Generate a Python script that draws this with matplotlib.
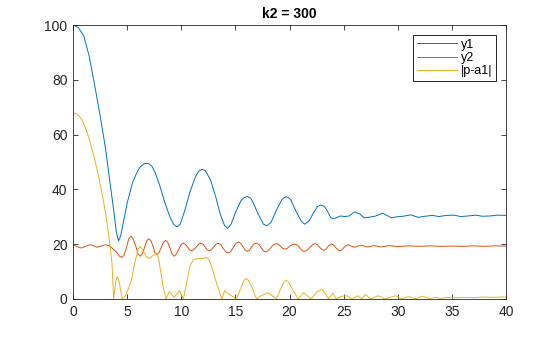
import numpy as np
import matplotlib
matplotlib.use('Agg')
import matplotlib.pyplot as plt

# values
x1 = [0, 0.5, 1.0, 1.5, 2.0, 2.5, 3.0, 3.5, 3.8, 4.0, 4.2, 4.4, 4.7, 5.0, 5.5, 6.0, 6.3, 6.6, 6.8,
      7.0, 7.3, 7.6, 8.0, 8.5, 9.0, 9.3, 9.6, 9.9, 10.3, 10.8, 11.3, 11.6, 11.9, 12.2, 12.7, 13.2,
      13.6, 14.0, 14.3, 14.6, 15.0, 15.5, 15.8, 16.1, 16.4, 16.6, 17.1, 17.6, 17.9, 18.3, 18.8,
      19.3, 19.5, 19.7, 19.9, 20.1, 20.6, 21.1, 21.4, 21.8, 22.3, 22.6, 22.9, 23.2, 23.4, 23.8,
      24.0, 24.3, 24.7, 25.1, 25.5, 26.0, 26.5, 26.9, 27.3, 27.9, 28.6, 29.0, 29.4, 29.9, 30.5,
      31.2, 31.9, 32.5, 33.2, 33.8, 34.5, 35.2, 35.8, 36.5, 37.2, 37.8, 38.5, 39.2, 40]
y1 = [100, 99, 96, 88.5, 78, 67, 55, 40, 31, 24.5, 21.2, 23, 29, 35, 42.5, 47, 48.6, 49.4, 49.5,
      49.4, 48.4, 46, 41.5, 35, 29.5, 27.2, 26.3, 27.3, 32, 39, 44.5, 46.6, 47.3, 47, 43.5, 37,
      31, 26.8, 25.8, 27.3, 31.5, 35.8, 37.0, 37.4, 36.8, 35.5, 31, 27.3, 26.7, 28, 32.5,
      36.3, 37.0, 37.3, 37.0, 36.3, 32, 28.3, 27.3, 28.5, 32, 33.8, 34.3, 33.8, 32.8, 29.8,
      29.3, 29.6, 30.3, 30.1, 30.3, 31.8, 31.0, 29.6, 29.8, 30.2, 31.3, 30.5, 29.6, 30.0, 30.2,
      30.7, 29.8, 30.2, 30.5, 30.1, 30.5, 30.6, 30.1, 30.3, 30.6, 30.2, 30.3, 30.6, 30.5]

x2 = [0, 0.4, 0.8, 1.2, 1.6, 1.9, 2.2, 2.6, 3.0, 3.3, 3.6,
      4.0, 4.3, 4.5, 4.7, 4.9, 5.15, 5.35, 5.55, 5.8, 6.0, 6.2, 6.4, 6.6, 6.8, 7.0, 7.2, 7.4,
      7.55, 7.75, 7.95, 8.15, 8.35, 8.55, 8.75, 8.95, 9.15, 9.35, 9.55, 9.8, 10.0, 10.2, 10.4,
      10.6, 10.75, 10.95, 11.15, 11.4, 11.6, 11.8, 12.0, 12.2, 12.4, 12.6, 12.8, 13.0, 13.2,
      13.4, 13.65, 13.9, 14.15, 14.35, 14.55, 14.8, 15.05, 15.3, 15.5, 15.7, 15.9, 16.1, 16.3,
      16.5, 16.75, 16.95, 17.2, 17.4, 17.6, 17.8, 18.0, 18.3, 18.55, 18.8, 19.0, 19.2, 19.4,
      19.6, 19.8, 20.05, 20.3, 20.5, 20.75, 21.0, 21.2, 21.4, 21.6, 21.9, 22.15, 22.35, 22.6,
      22.8, 23.0, 23.2, 23.4, 23.6, 23.9, 24.1, 24.3, 24.5, 24.65, 24.85, 25.1, 25.4, 25.7,
      26.0, 26.3, 26.65, 27.2, 27.8, 28.5, 29.2, 30, 31, 32, 33, 34, 35, 36, 37, 38, 39, 40]
y2 = [19.8, 19.0, 18.6, 19.3, 19.8, 19.4, 18.9, 19.3, 19.8, 19.5, 18.6,
      17.2, 15.6, 15.2, 15.9, 18.2, 22.0, 22.9, 22.0, 19.3, 16.5, 15.6, 16.5, 18.7, 21.2, 22.0,
      21.2, 19.2, 17.0, 16.2, 17.0, 18.8, 20.7, 21.4, 20.7, 18.6, 16.4, 15.6, 16.4, 18.4, 19.9,
      20.4, 19.9, 18.9, 18.0, 17.6, 18.0, 19.0, 20.0, 20.4, 20.0, 19.0, 18.0, 17.6, 18.0, 19.0,
      20.0, 20.4, 19.8, 18.3, 17.1, 16.8, 17.2, 18.8, 20.3, 20.8, 20.3, 19.1, 17.8, 17.4, 17.8,
      19.0, 20.1, 20.4, 19.8, 18.6, 17.5, 17.2, 17.6, 18.9, 19.9, 20.2, 19.9, 19.1, 18.4,
      18.2, 18.5, 19.4, 19.9, 20.1, 19.6, 18.4, 17.6, 17.4, 17.7, 18.9, 19.9, 20.2, 19.7,
      18.8, 18.0, 17.8, 18.3, 19.4, 20.1, 19.6, 18.6, 17.8, 17.6, 18.0, 19.1, 19.8, 19.3,
      18.9, 19.3, 19.6, 19.0, 19.5, 19.0, 19.5, 19.1, 19.4, 19.2, 19.4, 19.2, 19.3, 19.2,
      19.4, 19.2, 19.4, 19.3]

x3 = [0, 0.4, 0.8, 1.2, 1.6, 2.0, 2.4, 2.8, 3.1, 3.4, 3.6, 3.75, 3.95, 4.09, 4.25, 4.55, 4.8,
      5.1, 5.4, 5.7, 6.0, 6.2, 6.5, 6.8, 7.1, 7.4, 7.7, 7.9, 8.1, 8.35, 8.59, 8.9, 9.33, 9.82,
      10.2, 10.5, 10.8, 11.1, 11.5, 12.0, 12.35, 12.6, 12.9, 13.2, 13.5, 13.75, 14.0, 14.5,
      15.1, 15.5, 15.8, 16.0, 16.2, 16.5, 16.95, 17.3, 18.0, 18.8, 19.2, 19.5, 19.7, 19.9,
      20.2, 20.8, 21.3, 22.0, 22.5, 23.0, 23.4, 23.6, 24.0, 24.3, 24.8, 25.3, 25.8, 26.3,
      26.7, 27.0, 27.5, 28.2, 28.8, 29.8, 30.4, 31.0, 31.6, 32.3, 32.9, 33.5, 34.0, 34.6,
      35.2, 36, 37, 38, 39, 40]
y3 = [68, 67.5, 65.5, 62, 57, 51, 44, 36, 29, 20, 13, 0, 6.5, 8.1, 6.5, 0, 1,
      3.5, 7, 13, 18, 19.2, 17.5, 15.3, 14.8, 16, 16.7, 15, 10, 4, 0, 2.7, 0.5, 3.0,
      0, 6, 12, 14.3, 14.7, 14.8, 15.2, 14, 10.5, 6.5, 3, 0, 3.0, 1.5,
      0, 4, 6.8, 7.5, 6.8, 4.5, 0, 1, 2.3, 0, 4, 6.2, 6.8, 6.2,
      4, 0, 2.3, 0, 2.5, 3.5, 1.5, 0, 2.1, 0, 1.0, 1.2, 0, 1.2,
      0, 1.7, 0, 1.2, 0, 1.2, 0, 0.9, 0.1, 1.0, 0.2, 0.6, 0.2, 0.6,
      0.4, 0.6, 0.5, 0.7, 0.6, 0.8]

plt.rcParams['font.family'] = ['Liberation Sans', 'DejaVu Sans']

fig = plt.figure(figsize=(5.6, 3.37), dpi=100)
ax = fig.add_axes([0.1304, 0.1128, 0.7732, 0.8130])

ax.plot(x1, y1, color='#0072BD', lw=0.7, label='y1')
ax.plot(x2, y2, color='#D95319', lw=0.7, label='y2')
ax.plot(x3, y3, color='#EDB120', lw=0.7, label='|p-a1|')

ax.set_xlim(0, 40)
ax.set_ylim(0, 100)
ax.set_xticks(np.arange(0, 41, 5))
ax.set_yticks(np.arange(0, 101, 20))
ax.tick_params(direction='in', length=3.5, width=0.6, labelsize=10, colors='#262626',
               top=True, right=True, pad=4)
for s in ax.spines.values():
    s.set_linewidth(0.6)
    s.set_color('#262626')

ax.set_title('k2 = 300', fontsize=10, fontweight='bold', pad=5)

leg = ax.legend(loc='upper right', fontsize=9, frameon=True, fancybox=False,
                edgecolor='black', framealpha=1, borderaxespad=0.8,
                handlelength=3.2, handletextpad=0.3, labelspacing=0.1, borderpad=0.3)
leg.get_frame().set_linewidth(0.6)

fig.savefig('out.png', dpi=100)
